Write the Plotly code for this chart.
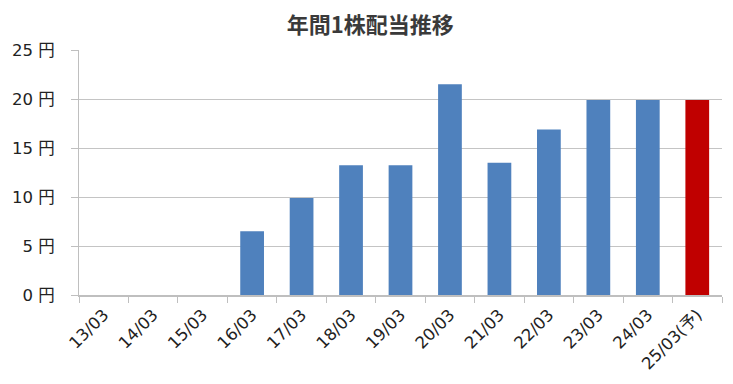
import plotly.graph_objects as go

categories = ["13/03", "14/03", "15/03", "16/03", "17/03", "18/03", "19/03",
              "20/03", "21/03", "22/03", "23/03", "24/03", "25/03(予)"]
dividends = [0, 0, 0, 6.5, 9.9, 13.25, 13.25, 21.5, 13.5, 16.9, 19.9, 19.9, 19.9]
bar_colors = ["#4F81BD"] * 12 + ["#C00000"]
y_tickvals = [0, 5, 10, 15, 20, 25]
y_ticktext = ["0 円", "5 円", "10 円", "15 円", "20 円", "25 円"]
title_text = "年間1株配当推移"

font_family = "DejaVu Sans, Noto Sans CJK JP, sans-serif"
title_family = "Noto Sans CJK JP, sans-serif"

fig = go.Figure(go.Bar(
    x=categories, y=dividends,
    marker=dict(color=bar_colors, line=dict(width=0)),
    hoverinfo="x+y",
))

fig.update_layout(
    width=733, height=384,
    margin=dict(l=79, r=11, t=50, b=87),
    paper_bgcolor="white", plot_bgcolor="white",
    bargap=0.52,
    showlegend=False,
    title=dict(text="<b>" + title_text + "</b>", x=0.505, xanchor="center",
               y=0.935, yanchor="middle",
               font=dict(family=title_family, size=22, color="#3A3A3A")),
    font=dict(family=font_family, color="#333333"),
)

fig.update_xaxes(
    type="category",
    tickangle=-45,
    tickson="boundaries",
    ticks="outside", ticklen=6, tickcolor="#BFBFBF", tickwidth=1,
    showline=True, linecolor="#BFBFBF", linewidth=1.5,
    showgrid=False,
    tickfont=dict(size=16.5, color="#222222"),
    ticklabelstandoff=2,
)

fig.update_yaxes(
    range=[0, 25],
    tickvals=y_tickvals, ticktext=y_ticktext,
    ticks="outside", ticklen=7, tickcolor="#BFBFBF", tickwidth=1,
    showline=True, linecolor="#BFBFBF", linewidth=1,
    showgrid=True, gridcolor="#C4C4C4", gridwidth=1,
    zeroline=False,
    tickfont=dict(size=16.5, color="#222222"),
    ticklabelstandoff=13,
)

fig.write_html("out.html")
